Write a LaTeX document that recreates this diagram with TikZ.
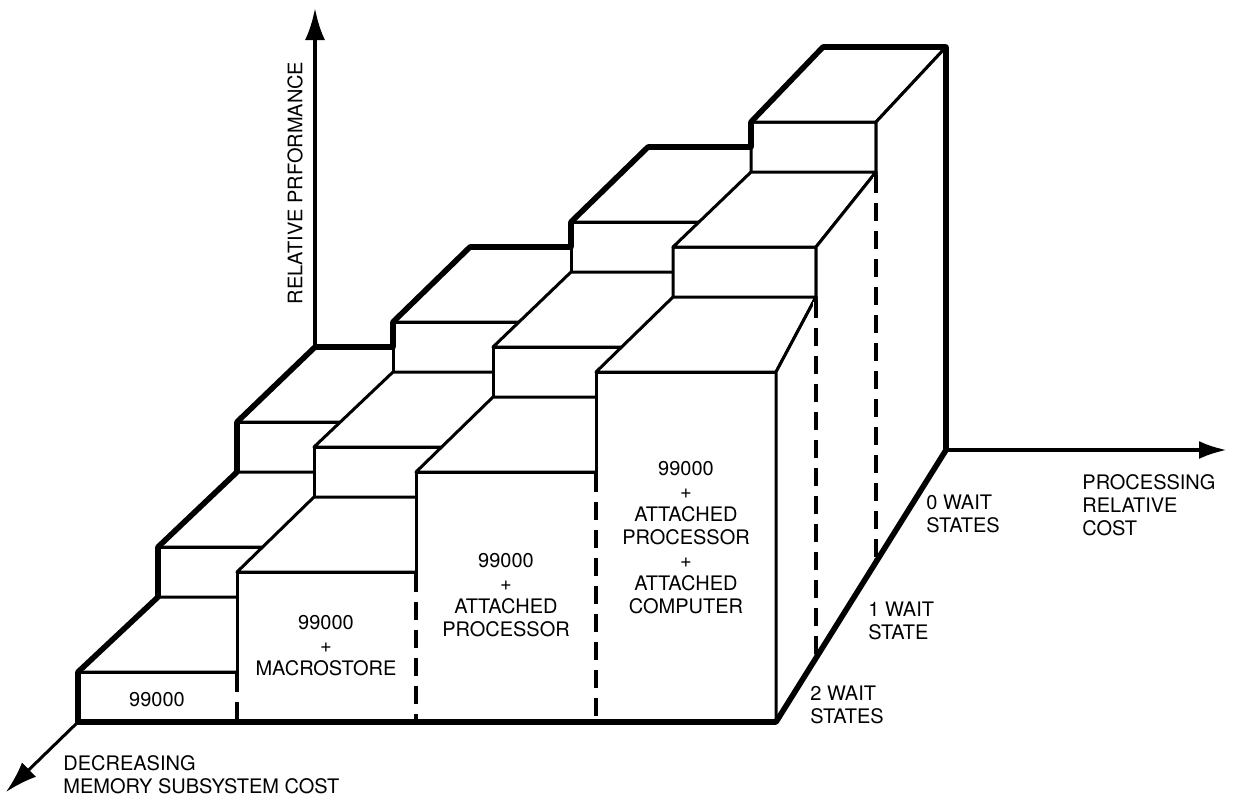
\documentclass[tikz,border=0pt]{standalone}
\usepackage{fontspec}
\setsansfont{TeX Gyre Heros}
\usetikzlibrary{arrows.meta}

% column edges (x) and floor (y) per depth row, edges 0..4, rows 0..3
\def\edgex{{78,158,237,315, 237,314,393,470, 416,493,571,648, 596,673,751,823, 776,816,876,946}}
\def\edgey{{722,647,572,497, 722,647,572,497, 722,647,572,497, 722,647,572,497, 722,657,561,450}}

\begin{document}
\begin{tikzpicture}[
  x=0.5pt, y=-0.5pt,
  font=\sffamily\fontsize{10}{11.5}\selectfont,
  face/.style={draw=black, fill=white, line width=1.5pt, line join=round},
  outline/.style={line width=2.8pt, line join=round},
  seam/.style={line width=1.6pt, dash pattern=on 9pt off 5pt},
  blank/.style={draw=white, line width=3.4pt},
  axis/.style={line width=2pt, -{Latex[length=16pt,width=10pt]}},
  lbl/.style={inner sep=0pt, align=left, anchor=north west},
  boxlbl/.style={inner sep=0pt, align=center},
]
\useasboundingbox (0,0) rectangle (1237,799);

% blocks, back row first
\foreach \row in {2,1,0} {
  \foreach \col in {0,1,2,3} {
    \pgfmathtruncatemacro\ia{4*\col+\row}
    \pgfmathtruncatemacro\ib{4*\col+4+\row}
    \pgfmathsetmacro\xa{\edgex[\ia]}
    \pgfmathsetmacro\xb{\edgex[\ib]}
    \pgfmathsetmacro\xc{\edgex[\ia+1]}
    \pgfmathsetmacro\xd{\edgex[\ib+1]}
    \pgfmathsetmacro\fa{\edgey[\ia]}
    \pgfmathsetmacro\fb{\edgey[\ib]}
    \pgfmathsetmacro\fd{\edgey[\ib+1]}
    \pgfmathsetmacro\ta{672-100*\col-125*\row}
    \pgfmathsetmacro\tb{\ta-75}
    \filldraw[face] (\xa,\fa) -- (\xa,\ta) -- (\xb,\ta) -- (\xb,\fb) -- cycle;
    \filldraw[face] (\xa,\ta) -- (\xc,\tb) -- (\xd,\tb) -- (\xb,\ta) -- cycle;
    \filldraw[face] (\xb,\ta) -- (\xd,\tb) -- (\xd,\fd) -- (\xb,\fb) -- cycle;
  }
}

% seams between faces lying in one plane
\foreach \xs/\ya/\yb in {237/674/722, 416/574/722, 596/474/722, 816/300/657, 876/175/561} {
  \draw[blank] (\xs,\ya+2) -- (\xs,\yb-3);
  \draw[seam] (\xs,\ya) -- (\xs,\yb);
}

% outline
\draw[outline] (78,722) -- (78,672) -- (158,597) -- (158,547) -- (237,472) -- (237,422)
  -- (315,347) -- (393,347) -- (393,322) -- (470,247) -- (571,247) -- (571,222)
  -- (648,147) -- (751,147) -- (751,122) -- (823,47) -- (946,47) -- (946,450)
  -- (776,722) -- cycle;

% axes
\coordinate (perfbase) at (315,347);
\coordinate (perftip) at (315,8);
\coordinate (costbase) at (946,450);
\coordinate (costtip) at (1227,450);
\coordinate (memorybase) at (78,722);
\coordinate (memorytip) at (6,792);
\draw[axis] (perfbase) -- (perftip);
\draw[axis, -{Latex[length=14pt,width=9pt]}] (costbase) -- (costtip);
\draw[axis, line width=1.5pt] (memorybase) -- (memorytip);

% labels
\node[boxlbl, rotate=90] (perf) at (295,183) {RELATIVE PRFORMANCE};
\node[lbl] (cost) at (1082,474) {PROCESSING\\RELATIVE\\COST};
\node[lbl] (wait0) at (926,495) {0 WAIT\\STATES};
\node[lbl] (wait1) at (868,602) {1 WAIT\\STATE};
\node[lbl] (wait2) at (810,686) {2 WAIT\\STATES};
\node[lbl] (memory) at (63,755) {DECREASING\\MEMORY SUBSYSTEM COST};
\node[boxlbl] (plain) at (157,700) {99000};
\node[boxlbl] (macro) at (326,646) {99000\\+\\MACROSTORE};
\node[boxlbl] (attproc) at (506,595) {99000\\+\\ATTACHED\\PROCESSOR};
\node[boxlbl] (attcomp) at (686,538) {99000\\+\\ATTACHED\\PROCESSOR\\+\\ATTACHED\\COMPUTER};
\end{tikzpicture}
\end{document}
